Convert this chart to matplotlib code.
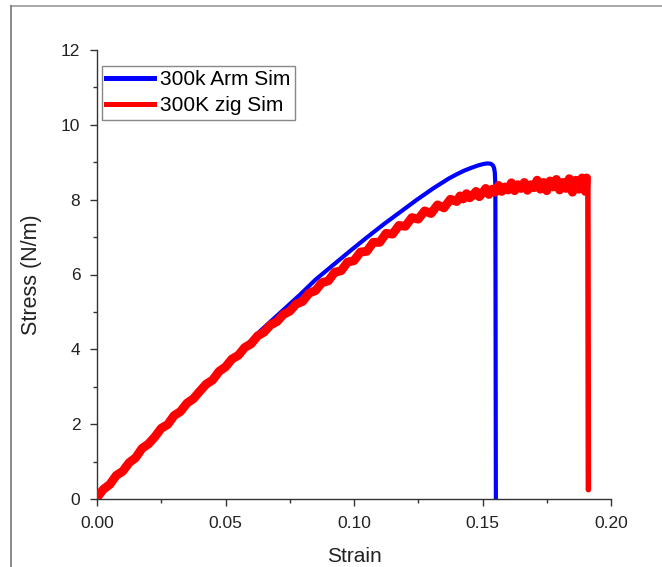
import matplotlib
matplotlib.use("Agg")
import matplotlib.pyplot as plt
from matplotlib.lines import Line2D
from matplotlib.ticker import MultipleLocator, FormatStrFormatter

plt.rcParams["font.family"] = ["Liberation Sans", "DejaVu Sans"]

# Armchair sheet, 300 K: stress-strain response up to fracture
arm_strain = [0.0, 0.0125, 0.025, 0.038, 0.051, 0.064, 0.079, 0.085, 0.092,
              0.0985, 0.105, 0.1115, 0.118, 0.1245, 0.131, 0.134, 0.137,
              0.140, 0.143, 0.146, 0.1485, 0.1505, 0.152, 0.1532, 0.154,
              0.1545, 0.1548, 0.1550, 0.1552]
arm_stress = [0.0, 0.93, 1.85, 2.76, 3.62, 4.52, 5.46, 5.86, 6.26,
              6.63, 6.99, 7.34, 7.67, 8.00, 8.31, 8.44, 8.57,
              8.68, 8.78, 8.86, 8.92, 8.955, 8.97, 8.96, 8.92,
              8.85, 8.72, 8.40, 0.0]

# Zigzag sheet, 300 K: noisy stress-strain response up to fracture
zig_strain = [0.0, 0.0025, 0.005, 0.0075, 0.01, 0.0125, 0.015, 0.0175, 0.02,
              0.0225, 0.025, 0.0275, 0.03, 0.0325, 0.035, 0.0375, 0.04,
              0.0425, 0.045, 0.0475, 0.05, 0.0525, 0.055, 0.0575, 0.06,
              0.0625, 0.065, 0.0675, 0.07, 0.0725, 0.075, 0.0775, 0.08,
              0.0825, 0.085, 0.0875, 0.09, 0.0925, 0.095, 0.0975, 0.1,
              0.1025, 0.105, 0.1075, 0.11, 0.1125, 0.115, 0.1175, 0.12,
              0.1225, 0.125, 0.1275, 0.13, 0.1325, 0.135, 0.1375,
              0.14, 0.14125, 0.1425, 0.14375, 0.145, 0.14625, 0.1475,
              0.14875, 0.15, 0.15125, 0.1525, 0.15375, 0.155, 0.15625,
              0.1575, 0.15875, 0.16, 0.16125, 0.1625, 0.16375, 0.165,
              0.16625, 0.1675, 0.16875, 0.17, 0.17125, 0.1725, 0.17375,
              0.175, 0.17625, 0.1775, 0.17875, 0.18, 0.18125, 0.1825,
              0.18375, 0.185, 0.18625, 0.1875, 0.18875, 0.19, 0.1905,
              0.191, 0.1912]
zig_stress = [0.04, 0.26, 0.39, 0.63, 0.74, 0.97, 1.10, 1.35, 1.47,
              1.66, 1.89, 1.99, 2.23, 2.34, 2.56, 2.68, 2.88,
              3.07, 3.18, 3.41, 3.53, 3.74, 3.84, 4.05, 4.15,
              4.36, 4.46, 4.65, 4.74, 4.93, 5.02, 5.21, 5.28,
              5.50, 5.57, 5.78, 5.83, 6.06, 6.10, 6.33, 6.37,
              6.60, 6.62, 6.86, 6.86, 7.10, 7.08, 7.31, 7.29,
              7.52, 7.48, 7.70, 7.63, 7.86, 7.78, 8.01,
              7.95, 8.10, 8.02, 8.16, 8.05, 8.12, 8.22,
              8.08, 8.18, 8.30, 8.14, 8.28, 8.20, 8.38,
              8.22, 8.34, 8.26, 8.45, 8.24, 8.40, 8.30,
              8.46, 8.25, 8.40, 8.32, 8.52, 8.28, 8.46,
              8.24, 8.50, 8.34, 8.54, 8.26, 8.46, 8.30,
              8.56, 8.20, 8.52, 8.28, 8.58, 8.22, 8.58,
              8.47, 0.25]

x_ticks = [0.00, 0.05, 0.10, 0.15, 0.20]
y_ticks = [0, 2, 4, 6, 8, 10, 12]
series_labels = ["300k Arm Sim", "300K zig Sim"]
x_label = "Strain"
y_label = "Stress (N/m)"

fig = plt.figure(figsize=(6.62, 5.67), dpi=100)
ax = fig.add_axes([97 / 662, 1 - 499 / 567, 514 / 662, 449 / 567])

ax.plot(arm_strain, arm_stress, color="#0000ff", lw=3.0,
        solid_joinstyle="round", solid_capstyle="round", zorder=2)
ax.plot(zig_strain[:-2], zig_stress[:-2], color="#ff0000", lw=6.4,
        solid_joinstyle="round", solid_capstyle="round", zorder=3)
ax.plot(zig_strain[-3:], zig_stress[-3:], color="#ff0000", lw=4.0,
        solid_capstyle="round", zorder=4)

ax.set_xlim(0, 0.20)
ax.set_ylim(0, 12)
ax.set_xticks(x_ticks)
ax.set_yticks(y_ticks)
ax.xaxis.set_major_formatter(FormatStrFormatter("%.2f"))
ax.xaxis.set_minor_locator(MultipleLocator(0.025))
ax.yaxis.set_minor_locator(MultipleLocator(1))

for side in ("top", "right"):
    ax.spines[side].set_visible(False)
for side in ("left", "bottom"):
    ax.spines[side].set_color("#333333")
    ax.spines[side].set_linewidth(1.0)

ax.tick_params(which="major", direction="out", length=5, width=1.0,
               color="#333333", labelsize=12.5, labelcolor="#222222", pad=7)
ax.tick_params(which="minor", direction="out", length=3, width=1.0,
               color="#333333")

ax.set_xlabel(x_label, fontsize=15, color="#222222", labelpad=12)
ax.set_ylabel(y_label, fontsize=15.5, color="#222222", labelpad=14)

handles = [Line2D([], [], color="#0000ff", lw=3.6),
           Line2D([], [], color="#ff0000", lw=3.6)]
leg = ax.legend(handles, series_labels, loc="upper left",
                bbox_to_anchor=(0.009, 0.964), borderaxespad=0,
                fontsize=15, handlelength=2.3, handletextpad=0.3,
                labelspacing=0.34, borderpad=0.2, fancybox=False,
                framealpha=1, edgecolor="#888888")
leg.get_frame().set_linewidth(1.0)

# border lines along the top and left edge of the canvas
fig.add_artist(Line2D([11 / 662, 1], [1 - 5.5 / 567, 1 - 5.5 / 567],
                      color="#9a9a9a", lw=1.2, transform=fig.transFigure))
fig.add_artist(Line2D([11 / 662, 11 / 662], [0, 1 - 5.5 / 567],
                      color="#777777", lw=1.2, transform=fig.transFigure))

fig.savefig("out.png", dpi=100)
